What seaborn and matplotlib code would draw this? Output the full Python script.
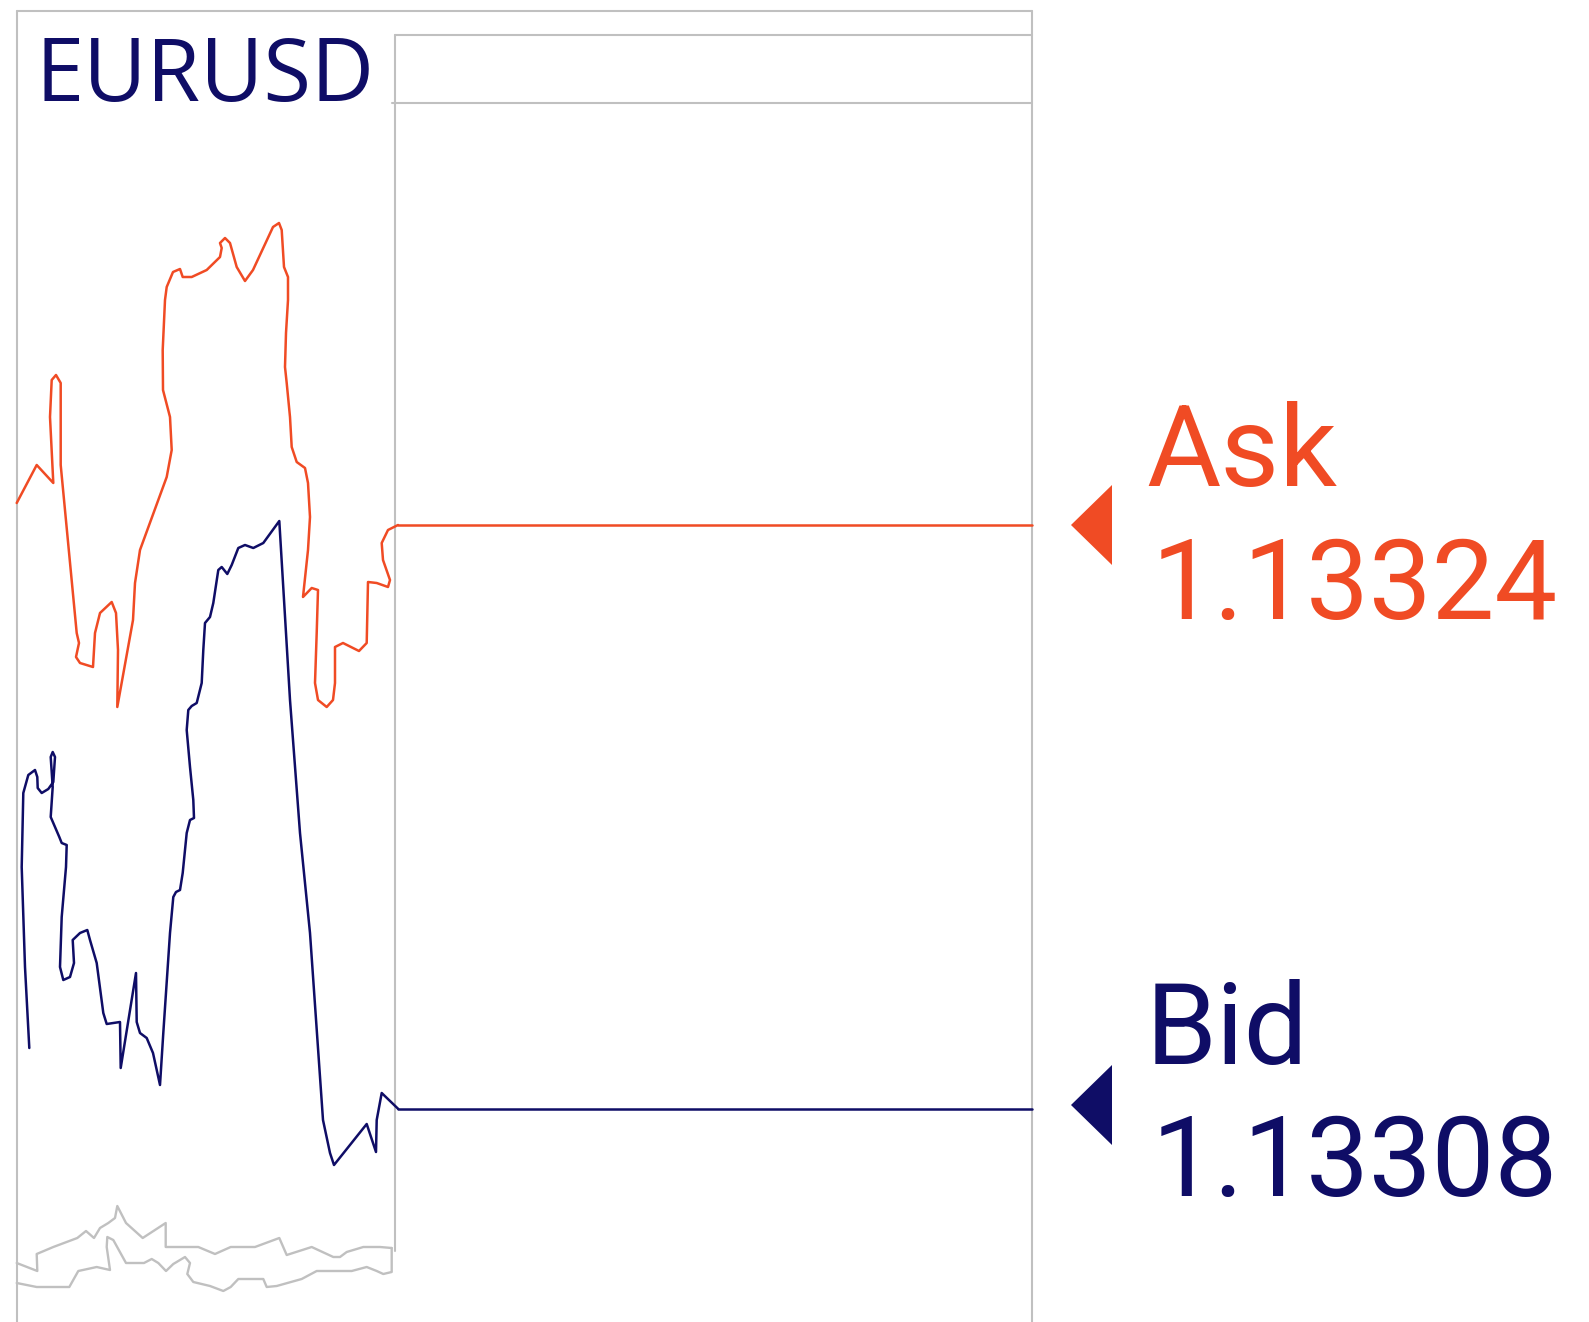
import matplotlib
matplotlib.use("Agg")
import matplotlib.pyplot as plt
import seaborn as sns
import pandas as pd

# ---------------- data (traced, chart units = pixels of the panel) ----------------
symbol = "EURUSD"
ask_label, bid_label = "Ask", "Bid"
ask_price, bid_price = "1.13324", "1.13308"

ask_x = [16.7, 36.7, 53.3, 50, 51.7, 56, 60.7, 60.7, 76.7, 79, 76, 80, 93, 95, 100, 111.7, 116, 118,
         117.3, 133, 135, 140, 166.7, 171.7, 170, 163, 162.7, 165, 166.7, 173, 180, 182.7, 191.7, 206.7,
         220, 221.7, 220, 225, 230, 236.7, 245, 253, 273, 279, 281.7, 284, 288, 288, 286, 285, 286.7, 290,
         291.7, 296.7, 305, 308, 310, 308, 303, 311.7, 318, 316.7, 315, 318, 326.7, 333, 335, 335, 343,
         359, 366.7, 368, 376.7, 388, 390, 383, 381.7, 388, 398]
ask_y = [503, 465, 483, 417, 380, 375, 383, 465, 633, 643, 657, 663, 667, 633, 613, 602, 613, 650,
         707, 620, 583, 550, 477, 450, 417, 390, 350, 300, 287, 272, 269, 277, 277, 270,
         257, 248, 243, 238, 243, 267, 281, 270, 227, 223, 230, 267, 277, 300, 333, 367, 383, 417,
         447, 462, 468, 483, 517, 550, 597, 588, 590, 633, 683, 700, 707, 700, 683, 647, 643,
         651, 643, 582, 583, 587, 580, 560, 543, 530, 525]

bid_x = [29.3, 25, 21.7, 23.3, 28.3, 35, 37.3, 37.7, 41.7, 48.3, 53.3, 55, 52.7, 50.7, 52.7, 50.7, 55,
         59.3, 61.7, 66.7, 66, 61.7, 60, 63.3, 70, 74, 72.7, 80, 87.3, 90, 96.7, 103.3, 106.7, 120,
         120.7, 136, 136.7, 140, 146.7, 153, 160, 163.3, 170, 173.3, 176, 180, 182.7, 186.7, 190, 194,
         193.3, 190, 186.7, 188.3, 191.7, 196.7, 201.7, 203.3, 205, 210, 213.3, 218.3, 221.7, 227.3,
         231.7, 238.3, 245, 253.3, 263.3, 279.3, 290, 300, 310, 323, 330, 334, 366.7, 376, 376.7,
         381.7, 398.3]
bid_y = [1048, 967, 867, 793, 775, 770, 777, 788, 793, 789, 782, 757, 752, 757, 787, 817, 827,
         837, 843, 845, 867, 917, 967, 980, 977, 963, 940, 933, 930, 940, 963, 1013, 1024, 1022,
         1068, 973, 1022, 1033, 1038, 1053, 1085, 1033, 933, 897, 892, 890, 873, 833, 820, 818,
         800, 767, 730, 710, 706, 703, 683, 650, 623, 617, 603, 570, 567, 574,
         565, 548, 545, 548, 543, 521, 700, 833, 933, 1120, 1153, 1165, 1124, 1152, 1120,
         1093, 1109]

vol1_x = [16.7, 37.3, 36.7, 53.3, 77.3, 86, 94, 100, 108.3, 115, 117.3, 126, 142.7, 165.7, 165.7,
          198.3, 215, 230.7, 255, 279.3, 286.7, 311.7, 333.3, 340, 346.7, 363.3, 380, 391.7]
vol1_y = [1263, 1271, 1254, 1247, 1238, 1231, 1238, 1228, 1223, 1218, 1206, 1223, 1238, 1223, 1247,
          1247, 1254, 1247, 1247, 1238, 1255, 1247, 1257, 1257, 1252, 1247, 1247, 1248]

vol2_x = [16.7, 36.7, 69.3, 78.3, 96.7, 110, 106.7, 107.3, 113.3, 126, 144, 151.7, 158.3, 166, 173.3,
          185, 190, 187.3, 193.3, 210, 223.3, 230.7, 238.3, 263.3, 266.7, 276.7, 301.7, 316.7, 351.7,
          366.7, 376.7, 383.3, 391.7, 391.7]
vol2_y = [1283, 1287, 1287, 1271, 1267, 1270, 1247, 1237, 1240, 1263, 1263, 1259, 1263, 1271, 1264,
          1257, 1263, 1274, 1282, 1286, 1291, 1287, 1279, 1279, 1287, 1286, 1279, 1271, 1271,
          1267, 1271, 1274, 1272, 1248]

# ---------------- style ----------------
ORANGE = "#f04b24"
NAVY = "#0f0d66"
GRID = "#c0c0c0"

sns.set_theme(style="white")
plt.rcParams["font.family"] = ["Roboto", "DejaVu Sans"]

W, H = 1589, 1322
fig = plt.figure(figsize=(W / 100, H / 100), dpi=100)
ax = fig.add_axes([0, 0, 1, 1])
ax.set_xlim(0, W)
ax.set_ylim(H, 0)
ax.axis("off")

# frame
lw_frame = 1.5
ax.plot([17, 17], [11, H], color=GRID, lw=lw_frame)
ax.plot([17, 1032], [11, 11], color=GRID, lw=lw_frame)
ax.plot([1032, 1032], [11, H], color=GRID, lw=lw_frame)
ax.plot([395, 395], [35, 1251], color=GRID, lw=lw_frame)
ax.plot([395, 1032], [35, 35], color=GRID, lw=lw_frame)
ax.plot([392, 1032], [103, 103], color=GRID, lw=lw_frame)

# volume lines
for xs, ys in [(vol1_x, vol1_y), (vol2_x, vol2_y)]:
    sns.lineplot(x=xs, y=ys, sort=False, estimator=None, color=GRID, lw=1.7, ax=ax)

# price lines
sns.lineplot(x=ask_x, y=ask_y, sort=False, estimator=None, color=ORANGE, lw=1.8, ax=ax)
sns.lineplot(x=bid_x, y=bid_y, sort=False, estimator=None, color=NAVY, lw=1.8, ax=ax)
ax.plot([ask_x[-1], 1032], [ask_y[-1], ask_y[-1]], color=ORANGE, lw=1.8)
ax.plot([bid_x[-1], 1032], [bid_y[-1], bid_y[-1]], color=NAVY, lw=1.8)

# markers
ax.fill([1071, 1112, 1112], [ask_y[-1], ask_y[-1] - 40, ask_y[-1] + 40], color=ORANGE, lw=0)
ax.fill([1071, 1112, 1112], [bid_y[-1] - 4, bid_y[-1] - 44, bid_y[-1] + 36], color=NAVY, lw=0)

# texts
ax.text(36, 101, symbol, color=NAVY, fontsize=62.5, family=["Open Sans", "DejaVu Sans"], va="baseline")
fs = 82
fs2 = 80.5
ax.text(1146, 486, ask_label, color=ORANGE, fontsize=fs, va="baseline")
ax.text(1152, 619, ask_price, color=ORANGE, fontsize=fs2, va="baseline")
ax.text(1146, 1064, bid_label, color=NAVY, fontsize=fs, va="baseline")
ax.text(1152, 1196, bid_price, color=NAVY, fontsize=fs2, va="baseline")

fig.savefig("out.png", dpi=100, facecolor="white")
